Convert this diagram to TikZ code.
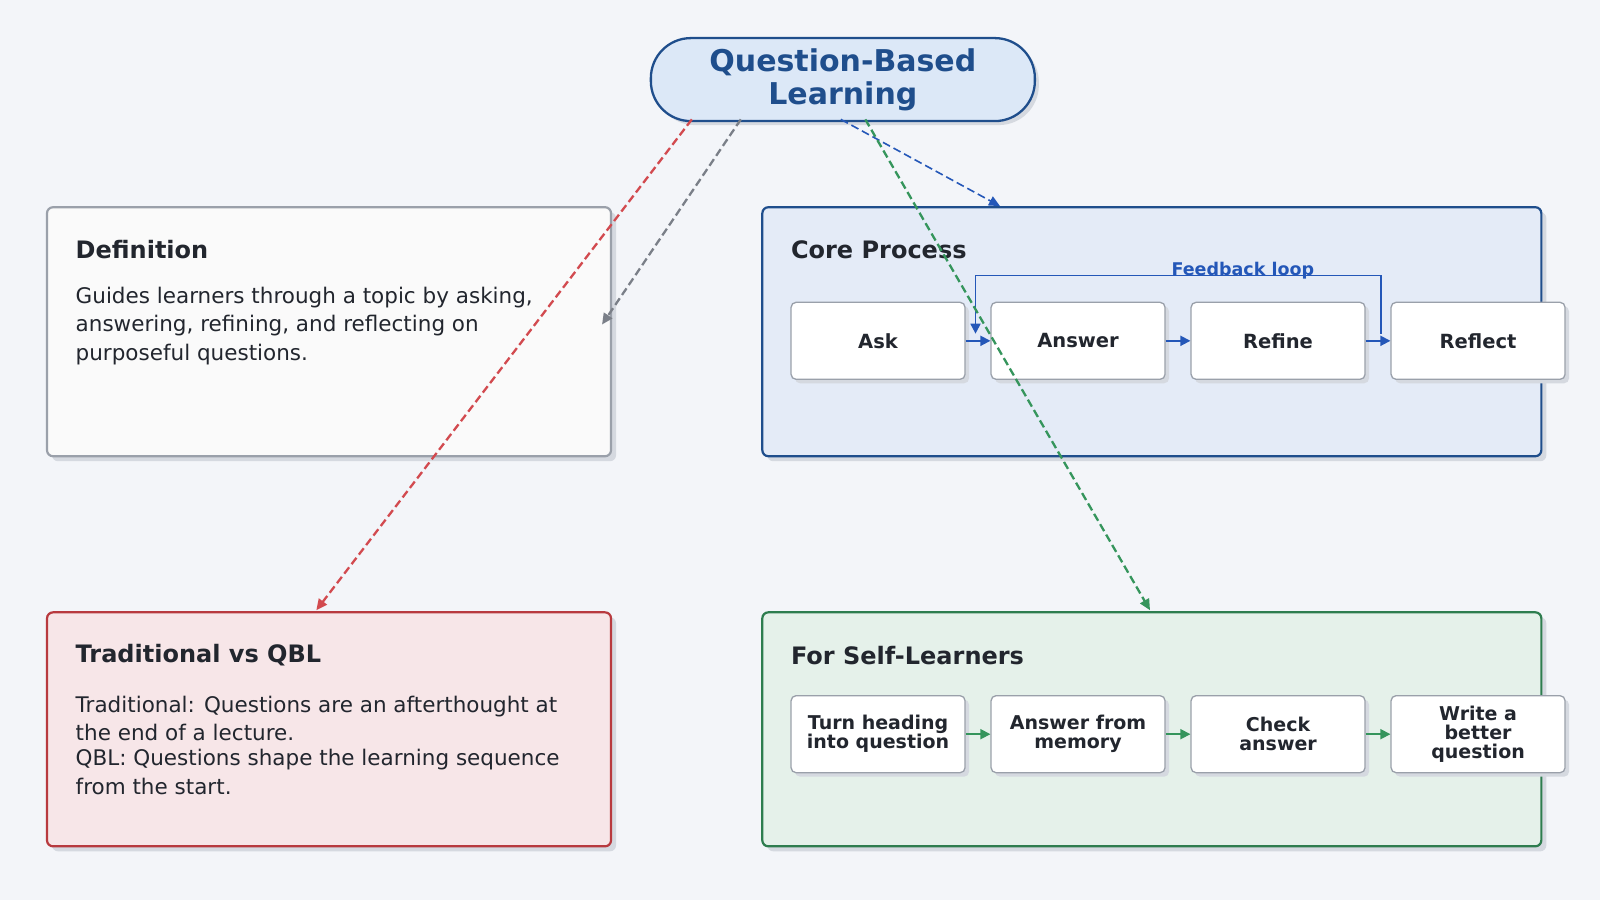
\documentclass[tikz,border=0pt]{standalone}
\usepackage{fontspec}
\setmainfont{DejaVu Sans}
\usetikzlibrary{arrows.meta,shadows}
\definecolor{bg}{HTML}{F3F5F9}
\definecolor{navy}{HTML}{1F4E8C}
\definecolor{blu}{HTML}{2457B8}
\definecolor{pill}{HTML}{DCE8F7}
\definecolor{grayb}{HTML}{9AA0AA}
\definecolor{corefill}{HTML}{E4EBF7}
\definecolor{redb}{HTML}{B83A3F}
\definecolor{redl}{HTML}{D24A4F}
\definecolor{redfill}{HTML}{F7E6E8}
\definecolor{greenb}{HTML}{2E7D4F}
\definecolor{greenl}{HTML}{35955C}
\definecolor{greenfill}{HTML}{E5F1EA}
\definecolor{txt}{HTML}{22262E}
\definecolor{shad}{HTML}{D5D9E0}
\definecolor{grayl}{HTML}{7A7F88}
\definecolor{deffill}{HTML}{FAFAFA}
\begin{document}
\begin{tikzpicture}[x=1.0204pt,y=-1.0204pt,
  panel/.style={draw,line width=2.2pt,rounded corners=6pt,
     drop shadow={shadow xshift=5pt,shadow yshift=-5pt,fill=shad,opacity=1}},
  stepbox/.style={draw=grayb,line width=1.3pt,fill=white,rounded corners=5pt,
     minimum width=174pt,minimum height=77pt,align=center,font=\bfseries\fontsize{19.5}{19.5}\selectfont,text=txt,
     drop shadow={shadow xshift=4pt,shadow yshift=-4pt,fill=shad,opacity=1}},
  ttl/.style={anchor=west,inner sep=0pt,font=\bfseries\fontsize{24}{27}\selectfont,text=txt},
  body/.style={anchor=north west,inner sep=0pt,align=left,font=\fontsize{21.5}{28.5}\selectfont,text=txt},
  sarr/.style={-{Triangle[length=10pt,width=10pt]},line width=1.8pt},
  darr/.style={-{Triangle[length=11pt,width=10pt]},line width=2.3pt,dash pattern=on 8pt off 4pt}]
\fill[bg] (0,0) rectangle (1568,882);
\useasboundingbox (0,0) rectangle (1568,882);
% panels
\node[panel,draw=grayb,fill=deffill,minimum width=564pt,minimum height=249pt,anchor=north west] (def) at (45,202) {};
\node[panel,draw=navy,fill=corefill,minimum width=779pt,minimum height=249pt,anchor=north west] (core) at (746,202) {};
\node[panel,draw=redb,fill=redfill,minimum width=564pt,minimum height=234pt,anchor=north west] (trad) at (45,599) {};
\node[panel,draw=greenb,fill=greenfill,minimum width=779pt,minimum height=234pt,anchor=north west] (self) at (746,599) {};
% pill
\node[draw=navy,line width=2.3pt,fill=pill,rounded corners=40pt,minimum width=384pt,minimum height=83pt,align=center,
  font=\bfseries\fontsize{30}{33}\selectfont,text=navy,
  drop shadow={shadow xshift=4pt,shadow yshift=-4pt,fill=shad,opacity=1}] (top) at (826,78) {Question-Based\\Learning};
% titles and bodies
\node[ttl] (t1) at (74,245) {Definition};
\node[body] (b1) at (74,281) {Guides learners through a topic by asking,\\answering, refining, and reflecting on\\purposeful questions.};
\node[ttl] (t2) at (775,245) {Core Process};
\node[ttl] (t3) at (74,642) {Traditional vs QBL};
\node[body] (b3) at (74,682) {Traditional: Questions are an afterthought at\\the end of a lecture.};
\node[body] (b3b) at (74,734) {QBL: Questions shape the learning sequence\\from the start.};
\node[ttl] (t4) at (775,642) {For Self-Learners};
% core steps
\node[stepbox] (s1) at (860.5,334) {Ask};
\node[stepbox] (s2) at (1056.5,334) {Answer};
\node[stepbox] (s3) at (1252.5,334) {Refine};
\node[stepbox] (s4) at (1448.5,334) {Reflect};
\foreach \a/\b in {s1/s2,s2/s3,s3/s4}{\draw[sarr,blu] (\a.east) -- (\b.west);}
\node[font=\bfseries\fontsize{17.5}{17.5}\selectfont,text=blu] (fb) at (1218,265) {Feedback loop};
\coordinate (fa) at (1353,327);
\coordinate (fz) at (956,327);
\draw[sarr,blu] (fa) -- (1353,270) -- (956,270) -- (fz);
% self steps
\node[stepbox,font=\bfseries\fontsize{19}{19}\selectfont] (g1) at (860.5,719.5) {Turn heading\\into question};
\node[stepbox,font=\bfseries\fontsize{19}{19}\selectfont] (g2) at (1056.5,719.5) {Answer from\\memory};
\node[stepbox,font=\bfseries\fontsize{19}{19}\selectfont] (g3) at (1252.5,719.5) {Check\\answer};
\node[stepbox,font=\bfseries\fontsize{19}{19}\selectfont] (g4) at (1448.5,719.5) {Write a\\better\\question};
\foreach \a/\b in {g1/g2,g2/g3,g3/g4}{\draw[sarr,greenl] (\a.east) -- (\b.west);}
% dashed connectors
\coordinate (p1) at (678,117);
\coordinate (p2) at (726,117);
\coordinate (p3) at (824,117);
\coordinate (p4) at (848,117);
\coordinate (e1) at (310,598);
\coordinate (e2) at (590,318);
\coordinate (e3) at (980,202);
\coordinate (e4) at (1127,598);
\draw[darr,redl] (p1) -- (e1);
\draw[darr,grayl] (p2) -- (e2);
\draw[darr,blu,line width=1.6pt] (p3) -- (e3);
\draw[darr,greenl] (p4) -- (e4);
\end{tikzpicture}
\end{document}
